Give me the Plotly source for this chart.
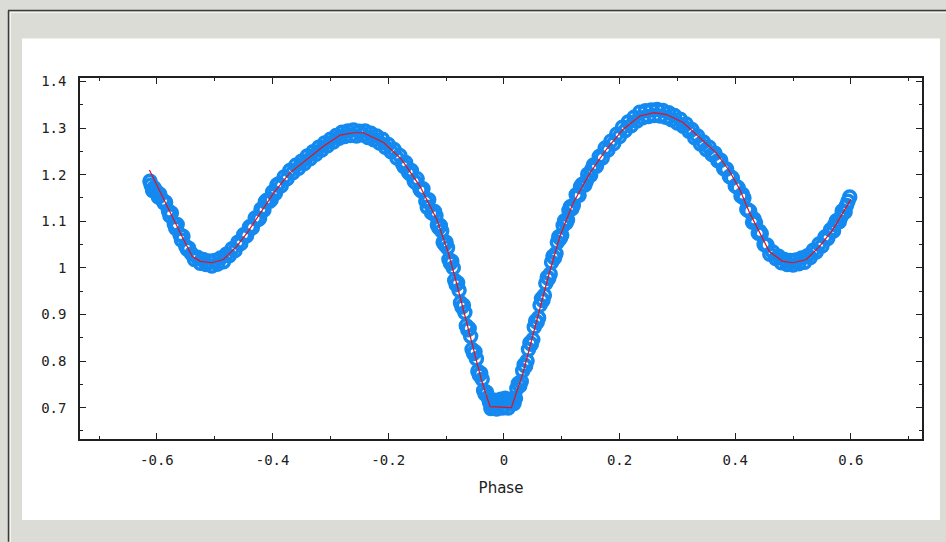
import plotly.graph_objects as go

# ---- fitted model curve (red) ----
fit_phase = [-0.613, -0.594, -0.571, -0.554, -0.539, -0.525, -0.505, -0.485, -0.462, -0.444,
             -0.421, -0.398, -0.370, -0.341, -0.312, -0.283, -0.260, -0.243, -0.208, -0.177,
             -0.145, -0.116, -0.096, -0.082, -0.067, -0.053, -0.039, -0.024, 0.013, 0.033,
             0.056, 0.077, 0.097, 0.120, 0.149, 0.177, 0.206, 0.235, 0.260, 0.281,
             0.310, 0.338, 0.367, 0.390, 0.408, 0.425, 0.442, 0.459, 0.482, 0.500,
             0.523, 0.546, 0.569, 0.600]
fit_flux = [1.210, 1.161, 1.104, 1.061, 1.025, 1.014, 1.011, 1.018, 1.046, 1.075,
            1.118, 1.161, 1.204, 1.233, 1.261, 1.285, 1.290, 1.290, 1.269, 1.233,
            1.175, 1.104, 1.032, 0.968, 0.896, 0.824, 0.760, 0.702, 0.700, 0.774,
            0.882, 0.982, 1.068, 1.140, 1.204, 1.254, 1.297, 1.326, 1.333, 1.329,
            1.312, 1.279, 1.247, 1.208, 1.168, 1.118, 1.075, 1.035, 1.014, 1.011,
            1.018, 1.046, 1.082, 1.147]

# ---- observations (blue open circles) ----
obs_phase = [
    -0.612, -0.610, -0.605, -0.600, -0.595, -0.590, -0.585, -0.580, -0.575, -0.570,
    -0.565, -0.560, -0.555, -0.550, -0.545, -0.540, -0.535, -0.530, -0.525, -0.520,
    -0.515, -0.510, -0.505, -0.500, -0.495, -0.490, -0.485, -0.480, -0.475, -0.470,
    -0.465, -0.460, -0.455, -0.450, -0.445, -0.440, -0.435, -0.430, -0.425, -0.420,
    -0.415, -0.410, -0.405, -0.400, -0.395, -0.390, -0.385, -0.380, -0.375, -0.370,
    -0.365, -0.360, -0.355, -0.350, -0.345, -0.340, -0.335, -0.330, -0.325, -0.320,
    -0.315, -0.310, -0.305, -0.300, -0.295, -0.290, -0.285, -0.280, -0.275, -0.270,
    -0.265, -0.260, -0.255, -0.250, -0.245, -0.240, -0.235, -0.230, -0.225, -0.220,
    -0.215, -0.210, -0.205, -0.200, -0.195, -0.190, -0.185, -0.180, -0.175, -0.170,
    -0.165, -0.160, -0.155, -0.150, -0.145, -0.140, -0.135, -0.130, -0.125, -0.120,
    -0.115, -0.110, -0.105, -0.100, -0.095, -0.090, -0.085, -0.080, -0.075, -0.070,
    -0.065, -0.060, -0.055, -0.050, -0.045, -0.040, -0.035, -0.030, -0.025, -0.020,
    -0.015, -0.010, -0.005, 0.000, 0.005, 0.010, 0.015, 0.020, 0.025, 0.030,
    0.035, 0.040, 0.045, 0.050, 0.055, 0.060, 0.065, 0.070, 0.075, 0.080,
    0.085, 0.090, 0.095, 0.100, 0.105, 0.110, 0.115, 0.120, 0.125, 0.130,
    0.135, 0.140, 0.145, 0.150, 0.155, 0.160, 0.165, 0.170, 0.175, 0.180,
    0.185, 0.190, 0.195, 0.200, 0.205, 0.210, 0.215, 0.220, 0.225, 0.230,
    0.235, 0.240, 0.245, 0.250, 0.255, 0.260, 0.265, 0.270, 0.275, 0.280,
    0.285, 0.290, 0.295, 0.300, 0.305, 0.310, 0.315, 0.320, 0.325, 0.330,
    0.335, 0.340, 0.345, 0.350, 0.355, 0.360, 0.365, 0.370, 0.375, 0.380,
    0.385, 0.390, 0.395, 0.400, 0.405, 0.410, 0.415, 0.420, 0.425, 0.430,
    0.435, 0.440, 0.445, 0.450, 0.455, 0.460, 0.465, 0.470, 0.475, 0.480,
    0.485, 0.490, 0.495, 0.500, 0.505, 0.510, 0.515, 0.520, 0.525, 0.530,
    0.535, 0.540, 0.545, 0.550, 0.555, 0.560, 0.565, 0.570, 0.575, 0.580,
    0.585, 0.590, 0.595, 0.598,
    -0.1175, -0.1125, -0.1075, -0.1025, -0.0975, -0.0925, -0.0875, -0.0825, -0.0775, -0.0725,
    -0.0675, -0.0625, -0.0575, -0.0525, -0.0475, -0.0425, -0.0375, -0.0325, -0.0275, -0.0225,
    -0.0175, -0.0125, -0.0075, -0.0025, 0.0025, 0.0075, 0.0125, 0.0175, 0.0225, 0.0275,
    0.0325, 0.0375, 0.0425, 0.0475, 0.0525, 0.0575, 0.0625, 0.0675, 0.0725, 0.0775,
    0.0825, 0.0875, 0.0925, 0.0975, 0.1025, 0.1075, 0.1125, 0.1175,
    -0.6075, -0.5975, -0.5875, -0.5775, -0.5675, -0.5575, -0.5475,
    -0.4225, -0.4125, -0.4025, -0.3925, -0.1725, -0.1625, -0.1525, -0.1425, -0.1325,
    0.1325, 0.1425, 0.1525, 0.3925, 0.4025, 0.4125, 0.4225, 0.4325, 0.4425, 0.5725, 0.5825, 0.5925]
obs_flux = [
    1.186, 1.178, 1.172, 1.163, 1.158, 1.145, 1.141, 1.122, 1.118, 1.094,
    1.093, 1.071, 1.068, 1.046, 1.042, 1.030, 1.018, 1.023, 1.010, 1.018,
    1.007, 1.015, 1.004, 1.016, 1.008, 1.021, 1.013, 1.029, 1.026, 1.041,
    1.037, 1.055, 1.052, 1.071, 1.069, 1.088, 1.086, 1.107, 1.104, 1.126,
    1.124, 1.145, 1.143, 1.163, 1.160, 1.180, 1.176, 1.195, 1.191, 1.209,
    1.204, 1.220, 1.214, 1.229, 1.224, 1.240, 1.234, 1.249, 1.244, 1.259,
    1.253, 1.268, 1.262, 1.276, 1.270, 1.284, 1.278, 1.291, 1.282, 1.294,
    1.284, 1.296, 1.283, 1.293, 1.285, 1.294, 1.280, 1.289, 1.275, 1.283,
    1.268, 1.276, 1.259, 1.265, 1.249, 1.254, 1.236, 1.241, 1.223, 1.226,
    1.205, 1.209, 1.186, 1.191, 1.168, 1.170, 1.143, 1.146, 1.118, 1.121,
    1.092, 1.091, 1.055, 1.055, 1.018, 1.014, 0.973, 0.968, 0.925, 0.920,
    0.876, 0.870, 0.825, 0.820, 0.778, 0.774, 0.737, 0.733, 0.712, 0.704,
    0.716, 0.706, 0.718, 0.703, 0.714, 0.708, 0.719, 0.720, 0.752, 0.756,
    0.792, 0.800, 0.839, 0.846, 0.886, 0.893, 0.934, 0.941, 0.980, 0.987,
    1.025, 1.031, 1.067, 1.070, 1.101, 1.103, 1.131, 1.134, 1.157, 1.156,
    1.179, 1.178, 1.201, 1.199, 1.221, 1.218, 1.239, 1.236, 1.257, 1.253,
    1.272, 1.267, 1.287, 1.282, 1.302, 1.295, 1.313, 1.305, 1.323, 1.315,
    1.334, 1.322, 1.337, 1.325, 1.339, 1.327, 1.340, 1.326, 1.338, 1.323,
    1.333, 1.318, 1.327, 1.311, 1.319, 1.304, 1.309, 1.293, 1.297, 1.279,
    1.283, 1.266, 1.270, 1.254, 1.259, 1.243, 1.246, 1.230, 1.231, 1.213,
    1.212, 1.196, 1.193, 1.176, 1.172, 1.154, 1.150, 1.126, 1.122, 1.098,
    1.097, 1.074, 1.073, 1.050, 1.049, 1.029, 1.034, 1.020, 1.025, 1.011,
    1.018, 1.007, 1.016, 1.006, 1.017, 1.009, 1.021, 1.012, 1.026, 1.022,
    1.038, 1.034, 1.051, 1.047, 1.066, 1.063, 1.082, 1.079, 1.101, 1.099,
    1.122, 1.120, 1.143, 1.152,
    1.112, 1.086, 1.079, 1.050, 1.043, 1.010, 1.000, 0.964, 0.952, 0.916,
    0.904, 0.867, 0.853, 0.816, 0.805, 0.770, 0.761, 0.729, 0.722, 0.698,
    0.709, 0.697, 0.711, 0.699, 0.720, 0.699, 0.712, 0.709, 0.741, 0.747,
    0.779, 0.789, 0.825, 0.836, 0.873, 0.883, 0.920, 0.930, 0.967, 0.977,
    1.012, 1.021, 1.055, 1.063, 1.091, 1.096, 1.123, 1.127,
    1.166, 1.152, 1.139, 1.112, 1.085, 1.060, 1.040,
    1.106, 1.142, 1.146, 1.178, 1.217, 1.202, 1.183, 1.165, 1.130,
    1.174, 1.186, 1.212, 1.195, 1.174, 1.158, 1.123, 1.105, 1.078, 1.093, 1.108, 1.134]

x_tick_vals = [-0.6, -0.4, -0.2, 0.0, 0.2, 0.4, 0.6]
x_tick_text = ["-0.6", "-0.4", "-0.2", "0", "0.2", "0.4", "0.6"]
x_minor_vals = [-0.7, -0.5, -0.3, -0.1, 0.1, 0.3, 0.5, 0.7]
y_tick_vals = [0.7, 0.8, 0.9, 1.0, 1.1, 1.2, 1.3, 1.4]
y_tick_text = ["0.7", "0.8", "0.9", "1", "1.1", "1.2", "1.3", "1.4"]
y_minor_vals = [0.65, 0.75, 0.85, 0.95, 1.05, 1.15, 1.25, 1.35]

W, H = 946, 542
L, R, T, B = 80, 922, 77.5, 439


def px(X):
    return (X - L) / (R - L)


def py(Y):
    return (B - Y) / (B - T)


BLUE = "#1489f0"

fig = go.Figure()
fig.add_trace(go.Scatter(
    x=obs_phase, y=obs_flux, mode="markers",
    marker=dict(symbol="circle-open", size=12, color=BLUE, line=dict(width=3.5, color=BLUE)),
    showlegend=False, hoverinfo="skip"))
fig.add_trace(go.Scatter(
    x=fit_phase, y=fit_flux, mode="lines",
    line=dict(color="#e8101a", width=1.2),
    showlegend=False, hoverinfo="skip"))

shapes = [
    # white panel
    dict(type="rect", xref="paper", yref="paper", x0=px(22), x1=px(940), y0=py(520), y1=py(38),
         fillcolor="white", line=dict(width=0), layer="below"),
    # dark frame lines
    dict(type="line", xref="paper", yref="paper", x0=px(8), x1=px(946), y0=py(10), y1=py(10),
         line=dict(color="#3a3a3a", width=1.5), layer="below"),
    dict(type="line", xref="paper", yref="paper", x0=px(8.5), x1=px(8.5), y0=py(10), y1=py(542),
         line=dict(color="#3a3a3a", width=1.5), layer="below"),
    dict(type="line", xref="paper", yref="paper", x0=px(10), x1=px(946), y0=py(12), y1=py(12),
         line=dict(color="#f4f4f2", width=1), layer="below"),
    dict(type="line", xref="paper", yref="paper", x0=px(10.5), x1=px(10.5), y0=py(12), y1=py(542),
         line=dict(color="#f4f4f2", width=1), layer="below"),
]

axis_common = dict(
    showline=True, linecolor="#202020", linewidth=1.5, mirror="ticks",
    ticks="inside", ticklen=6, tickwidth=1.2, tickcolor="#202020",
    showgrid=False, zeroline=False,
    tickfont=dict(family="DejaVu Sans Mono", size=14, color="#202020"),
)

fig.update_layout(
    width=W, height=H,
    margin=dict(l=L, r=W - R, t=T, b=H - B, pad=0),
    paper_bgcolor="#dcdcd7", plot_bgcolor="white",
    shapes=shapes,
    xaxis=dict(range=[-0.733, 0.723], tickmode="array", tickvals=x_tick_vals, ticktext=x_tick_text,
               minor=dict(tickmode="array", tickvals=x_minor_vals, ticks="inside", ticklen=3,
                          tickcolor="#202020", tickwidth=1.2),
               ticklabelstandoff=7,
               title=dict(text="Phase", font=dict(family="DejaVu Sans", size=15, color="#202020"), standoff=16),
               **axis_common),
    yaxis=dict(range=[0.6327, 1.4075], tickmode="array", tickvals=y_tick_vals, ticktext=y_tick_text,
               minor=dict(tickmode="array", tickvals=y_minor_vals, ticks="inside", ticklen=3,
                          tickcolor="#202020", tickwidth=1.2),
               ticklabelstandoff=9,
               **axis_common),
)

fig.write_html("out.html")
